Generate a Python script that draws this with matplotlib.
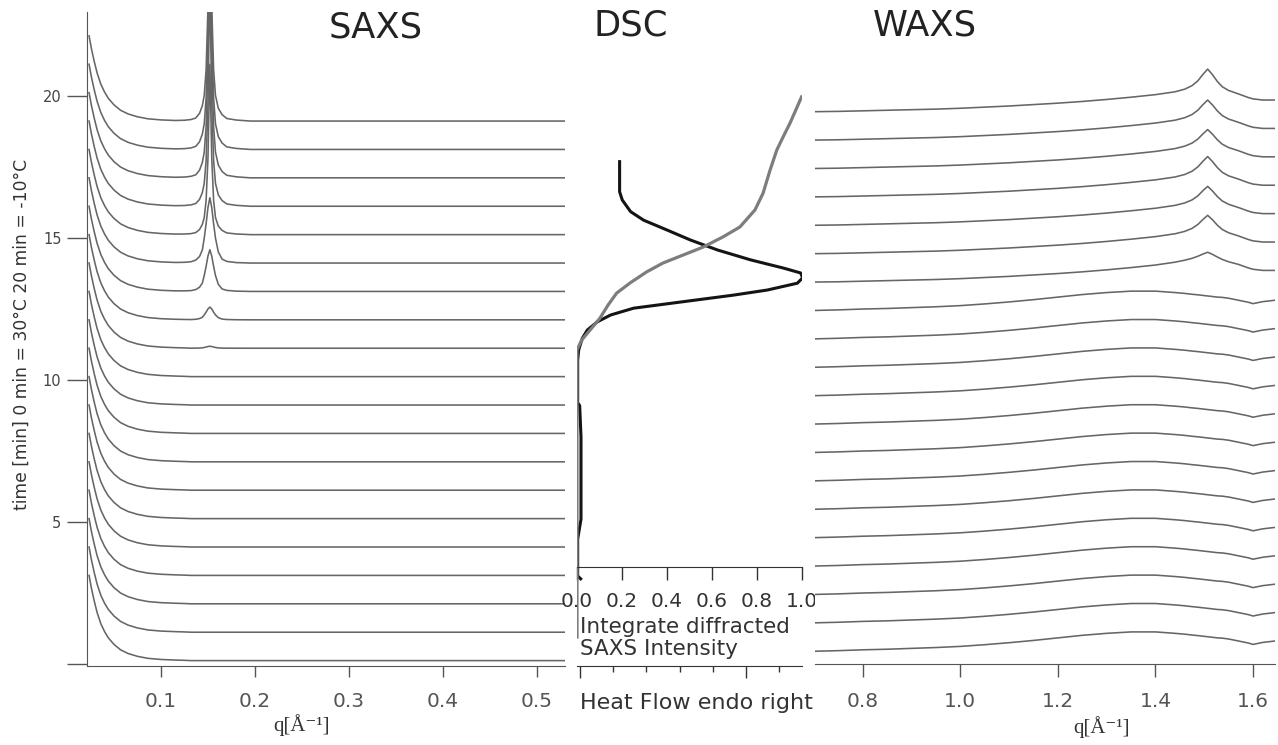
import numpy as np
import matplotlib
matplotlib.use("Agg")
import matplotlib.pyplot as plt

W, H = 1278, 745

# --- data ---
# one SAXS/WAXS frame per minute, bottom -> top
times = [0, 1, 2, 3, 4, 5, 6, 7, 8, 9, 10, 11, 12, 13, 14, 15, 16, 17, 18, 19]
saxs_base = 0.12
waxs_base = 0.45

# SAXS: q grid, low-q decay and the Bragg peak shapes at q=0.152
saxs_q = np.array([0.0235, 0.026, 0.029, 0.032, 0.036, 0.040, 0.044, 0.050, 0.057, 0.065,
                   0.075, 0.086, 0.100, 0.115, 0.125, 0.132, 0.137, 0.141, 0.144, 0.146,
                   0.148, 0.150, 0.152, 0.154, 0.156, 0.158, 0.161, 0.165, 0.170, 0.180,
                   0.195, 0.220, 0.300, 0.400, 0.5298])
saxs_decay = np.array([3.0, 2.55, 2.1, 1.7, 1.3, 1.02, 0.8, 0.57, 0.38, 0.25,
                       0.15, 0.08, 0.04, 0.02, 0.01, 0.0, 0.0, 0.0, 0.0, 0.0,
                       0.0, 0.0, 0.0, 0.0, 0.0, 0.0, 0.0, 0.0, 0.0, 0.0,
                       0.0, 0.0, 0.0, 0.0, 0.0])
# broad peak of the first (weak) reflections
saxs_peak = np.array([0.0, 0.0, 0.0, 0.0, 0.0, 0.0, 0.0, 0.0, 0.0, 0.0,
                      0.0, 0.0, 0.0, 0.0, 0.007, 0.02, 0.045, 0.1, 0.2, 0.38,
                      0.6, 0.85, 1.0, 0.85, 0.6, 0.38, 0.17, 0.06, 0.025, 0.007,
                      0.0, 0.0, 0.0, 0.0, 0.0])
# sharp peak of the later (strong) reflections
saxs_peak_sharp = np.array([0.0, 0.0, 0.0, 0.0, 0.0, 0.0, 0.0, 0.0, 0.0, 0.0,
                            0.0, 0.0, 0.0, 0.0, 0.002, 0.006, 0.012, 0.03, 0.06, 0.1,
                            0.2, 0.45, 1.0, 0.45, 0.2, 0.1, 0.05, 0.025, 0.01, 0.004,
                            0.0, 0.0, 0.0, 0.0, 0.0])
saxs_peak_amp = [0, 0, 0, 0, 0, 0, 0, 0, 0, 0, 0, 0.07, 0.45, 1.47, 2.3, 6.0, 8.0, 9.0, 9.0, 9.0]
saxs_sharp = [False] * 15 + [True] * 5

# WAXS: q grid, amorphous halo, crystalline background and peak at q=1.507
waxs_q = np.array([0.702, 0.75, 0.80, 0.85, 0.90, 0.95, 1.00, 1.05, 1.10, 1.15,
                   1.20, 1.25, 1.30, 1.35, 1.40, 1.44, 1.46, 1.475, 1.487, 1.497,
                   1.507, 1.517, 1.527, 1.537, 1.55, 1.57, 1.59, 1.60, 1.62, 1.645])
waxs_amorph = np.array([0.0, 0.02, 0.05, 0.07, 0.10, 0.13, 0.17, 0.23, 0.30, 0.38,
                        0.47, 0.56, 0.63, 0.68, 0.68, 0.63, 0.60, 0.57, 0.55, 0.53,
                        0.51, 0.49, 0.47, 0.46, 0.43, 0.36, 0.29, 0.24, 0.31, 0.36])
waxs_cryst = np.array([0.0, 0.01, 0.03, 0.05, 0.07, 0.09, 0.12, 0.16, 0.20, 0.25,
                       0.30, 0.36, 0.43, 0.51, 0.60, 0.70, 0.76, 0.80, 0.83, 0.84,
                       0.85, 0.83, 0.80, 0.76, 0.70, 0.62, 0.50, 0.45, 0.41, 0.41])
waxs_peak = np.array([0.0, 0.0, 0.0, 0.0, 0.0, 0.0, 0.0, 0.0, 0.0, 0.0,
                      0.0, 0.0, 0.0, 0.0, 0.0, 0.0, 0.05, 0.18, 0.4, 0.72,
                      1.0, 0.72, 0.4, 0.18, 0.07, 0.01, 0.0, 0.0, 0.0, 0.0])
waxs_crystalline = [False] * 13 + [True] * 7
waxs_peak_amp = [0, 0, 0, 0, 0, 0, 0, 0, 0, 0, 0, 0, 0, 0.2, 0.5, 0.52, 0.57, 0.52, 0.56, 0.65]

# DSC: integrated SAXS intensity (0..1) vs time
dsc_saxs_x = [0.0, 0.0, 0.021, 0.058, 0.102, 0.138, 0.176, 0.236, 0.310, 0.382, 0.471,
              0.560, 0.649, 0.724, 0.791, 0.827, 0.858, 0.888, 0.916, 0.947, 0.998]
dsc_saxs_t = [0.95, 11.06, 11.41, 11.76, 12.18, 12.64, 13.06, 13.42, 13.81, 14.12, 14.40,
              14.68, 15.04, 15.39, 15.99, 16.58, 17.39, 18.10, 18.56, 19.05, 19.97]
# DSC heat flow (arb. units, endo right) vs time
heat_flow = [0.03, -0.06, -0.06, 0.04, 0.04, 0.0, -0.06, -0.06, -0.03, 0.08, 0.23, 0.53,
             0.93, 1.62, 3.12, 4.62, 5.64, 6.54, 6.70, 6.64, 6.13, 5.14, 4.14, 3.33,
             2.63, 1.92, 1.53, 1.28, 1.20, 1.20]
heat_t = [3.0, 3.1, 4.4, 5.1, 8.0, 9.1, 9.2, 10.7, 11.06, 11.47, 11.76, 12.05,
          12.29, 12.53, 12.76, 12.99, 13.17, 13.41, 13.60, 13.77, 13.94, 14.23, 14.58, 14.93,
          15.28, 15.63, 15.93, 16.34, 16.63, 17.69]

curve_c = "#666666"
text_c = "#333333"
T_LIM = (-0.07, 22.96)


def rect(x0, x1, y_top, y_bot):
    return [x0 / W, 1 - y_bot / H, (x1 - x0) / W, (y_bot - y_top) / H]


fig = plt.figure(figsize=(W / 100, H / 100), dpi=100)
plt.rcParams["font.family"] = ["DejaVu Sans"]

# --- SAXS panel ---
ax_s = fig.add_axes(rect(87, 565, 12, 666))
for i, t in enumerate(times):
    shape = saxs_peak_sharp if saxs_sharp[i] else saxs_peak
    y = t + saxs_base + saxs_decay + saxs_peak_amp[i] * shape
    ax_s.plot(saxs_q, y, color=curve_c, lw=1.15)
ax_s.set_xlim(0.0213, 0.5298)
ax_s.set_ylim(*T_LIM)
for s in ["top", "right"]:
    ax_s.spines[s].set_visible(False)
for s in ["left", "bottom"]:
    ax_s.spines[s].set_color("#555555")
ax_s.set_xticks([0.1, 0.2, 0.3, 0.4, 0.5])
ax_s.set_xticklabels(["0.1", "0.2", "0.3", "0.4", "0.5"])
ax_s.set_yticks([0, 5, 10, 15, 20])
ax_s.set_yticklabels(["", "5", "10", "15", "20"])
ax_s.tick_params(axis="x", length=8, width=1, pad=11, labelsize=14.5,
                 color="#555555", labelcolor="#555555")
ax_s.tick_params(axis="y", length=14.4, width=1, pad=4, labelsize=10.5,
                 color="#555555", labelcolor="#444444")

# --- DSC panel: heat flow (black, lower axis) ---
ax_hf = fig.add_axes(rect(577, 802, 12, 666))
ax_hf.patch.set_visible(False)
ax_hf.plot(heat_flow, heat_t, color="#141414", lw=2.2)
ax_hf.set_xlim(-0.08, 6.68)
ax_hf.set_ylim(*T_LIM)
for s in ["top", "right", "left"]:
    ax_hf.spines[s].set_visible(False)
ax_hf.spines["bottom"].set_color("#333333")
ax_hf.set_yticks([])
ax_hf.set_xticks([0, 5])
ax_hf.set_xticks([1, 2, 3, 4, 6], minor=True)
ax_hf.tick_params(axis="x", which="major", length=8.5, width=1, labelbottom=False, color="#333333")
ax_hf.tick_params(axis="x", which="minor", length=4.3, width=1, labelbottom=False, color="#333333")

# --- DSC panel: integrated SAXS intensity (gray, inner axis) ---
ax_d = fig.add_axes(rect(577, 802, 12, 666))
ax_d.patch.set_visible(False)
ax_d.plot(dsc_saxs_x, dsc_saxs_t, color="#7d7d7d", lw=2.3)
ax_d.set_xlim(0, 1)
ax_d.set_ylim(*T_LIM)
for s in ["top", "right", "left"]:
    ax_d.spines[s].set_visible(False)
ax_d.spines["bottom"].set_position(("data", 3.42))
ax_d.spines["bottom"].set_color("#333333")
ax_d.set_yticks([])
ax_d.set_xticks([0.0, 0.2, 0.4, 0.6, 0.8, 1.0])
ax_d.set_xticklabels(["0.0", "0.2", "0.4", "0.6", "0.8", "1.0"])
ax_d.tick_params(axis="x", length=9.4, width=1, pad=9, labelsize=14.5,
                 color="#333333", labelcolor=text_c)

# --- WAXS panel ---
ax_w = fig.add_axes(rect(815, 1275, 12, 664))
for i, t in enumerate(times):
    bg = waxs_cryst if waxs_crystalline[i] else waxs_amorph
    y = t + waxs_base + bg + waxs_peak_amp[i] * waxs_peak
    ax_w.plot(waxs_q, y, color=curve_c, lw=1.15)
ax_w.set_xlim(0.702, 1.645)
ax_w.set_ylim(0, 22.96)
for s in ["top", "right", "left"]:
    ax_w.spines[s].set_visible(False)
ax_w.spines["bottom"].set_color("#555555")
ax_w.set_yticks([])
ax_w.set_xticks([0.8, 1.0, 1.2, 1.4, 1.6])
ax_w.set_xticklabels(["0.8", "1.0", "1.2", "1.4", "1.6"])
ax_w.tick_params(axis="x", length=9.4, width=1, pad=11, labelsize=14.5,
                 color="#555555", labelcolor="#555555")


# --- texts ---
def ftext(x, y, s, **kw):
    fig.text(x / W, 1 - y / H, s, **kw)


ftext(376, 27, "SAXS", fontsize=25.5, ha="center", va="center", color="#222222")
ftext(631, 26, "DSC", fontsize=25.5, ha="center", va="center", color="#222222")
ftext(925, 26, "WAXS", fontsize=25.5, ha="center", va="center", color="#222222")
ftext(22, 334, "time [min] 0 min = 30°C 20 min = -10°C", fontsize=12.3, rotation=90,
      ha="center", va="center", color=text_c)
ftext(301, 725, "q[Å⁻¹]", fontsize=15, ha="center", va="center", color=text_c,
      family=["Liberation Serif", "DejaVu Serif"])
ftext(1102, 727, "q[Å⁻¹]", fontsize=15, ha="center", va="center", color=text_c,
      family=["Liberation Serif", "DejaVu Serif"])
ftext(580, 638, "Integrate diffracted\nSAXS Intensity", fontsize=15.5, ha="left",
      va="center", color=text_c, linespacing=1.08)
ftext(580, 703, "Heat Flow endo right", fontsize=16, ha="left", va="center", color=text_c)

fig.savefig("out.png", dpi=100)
